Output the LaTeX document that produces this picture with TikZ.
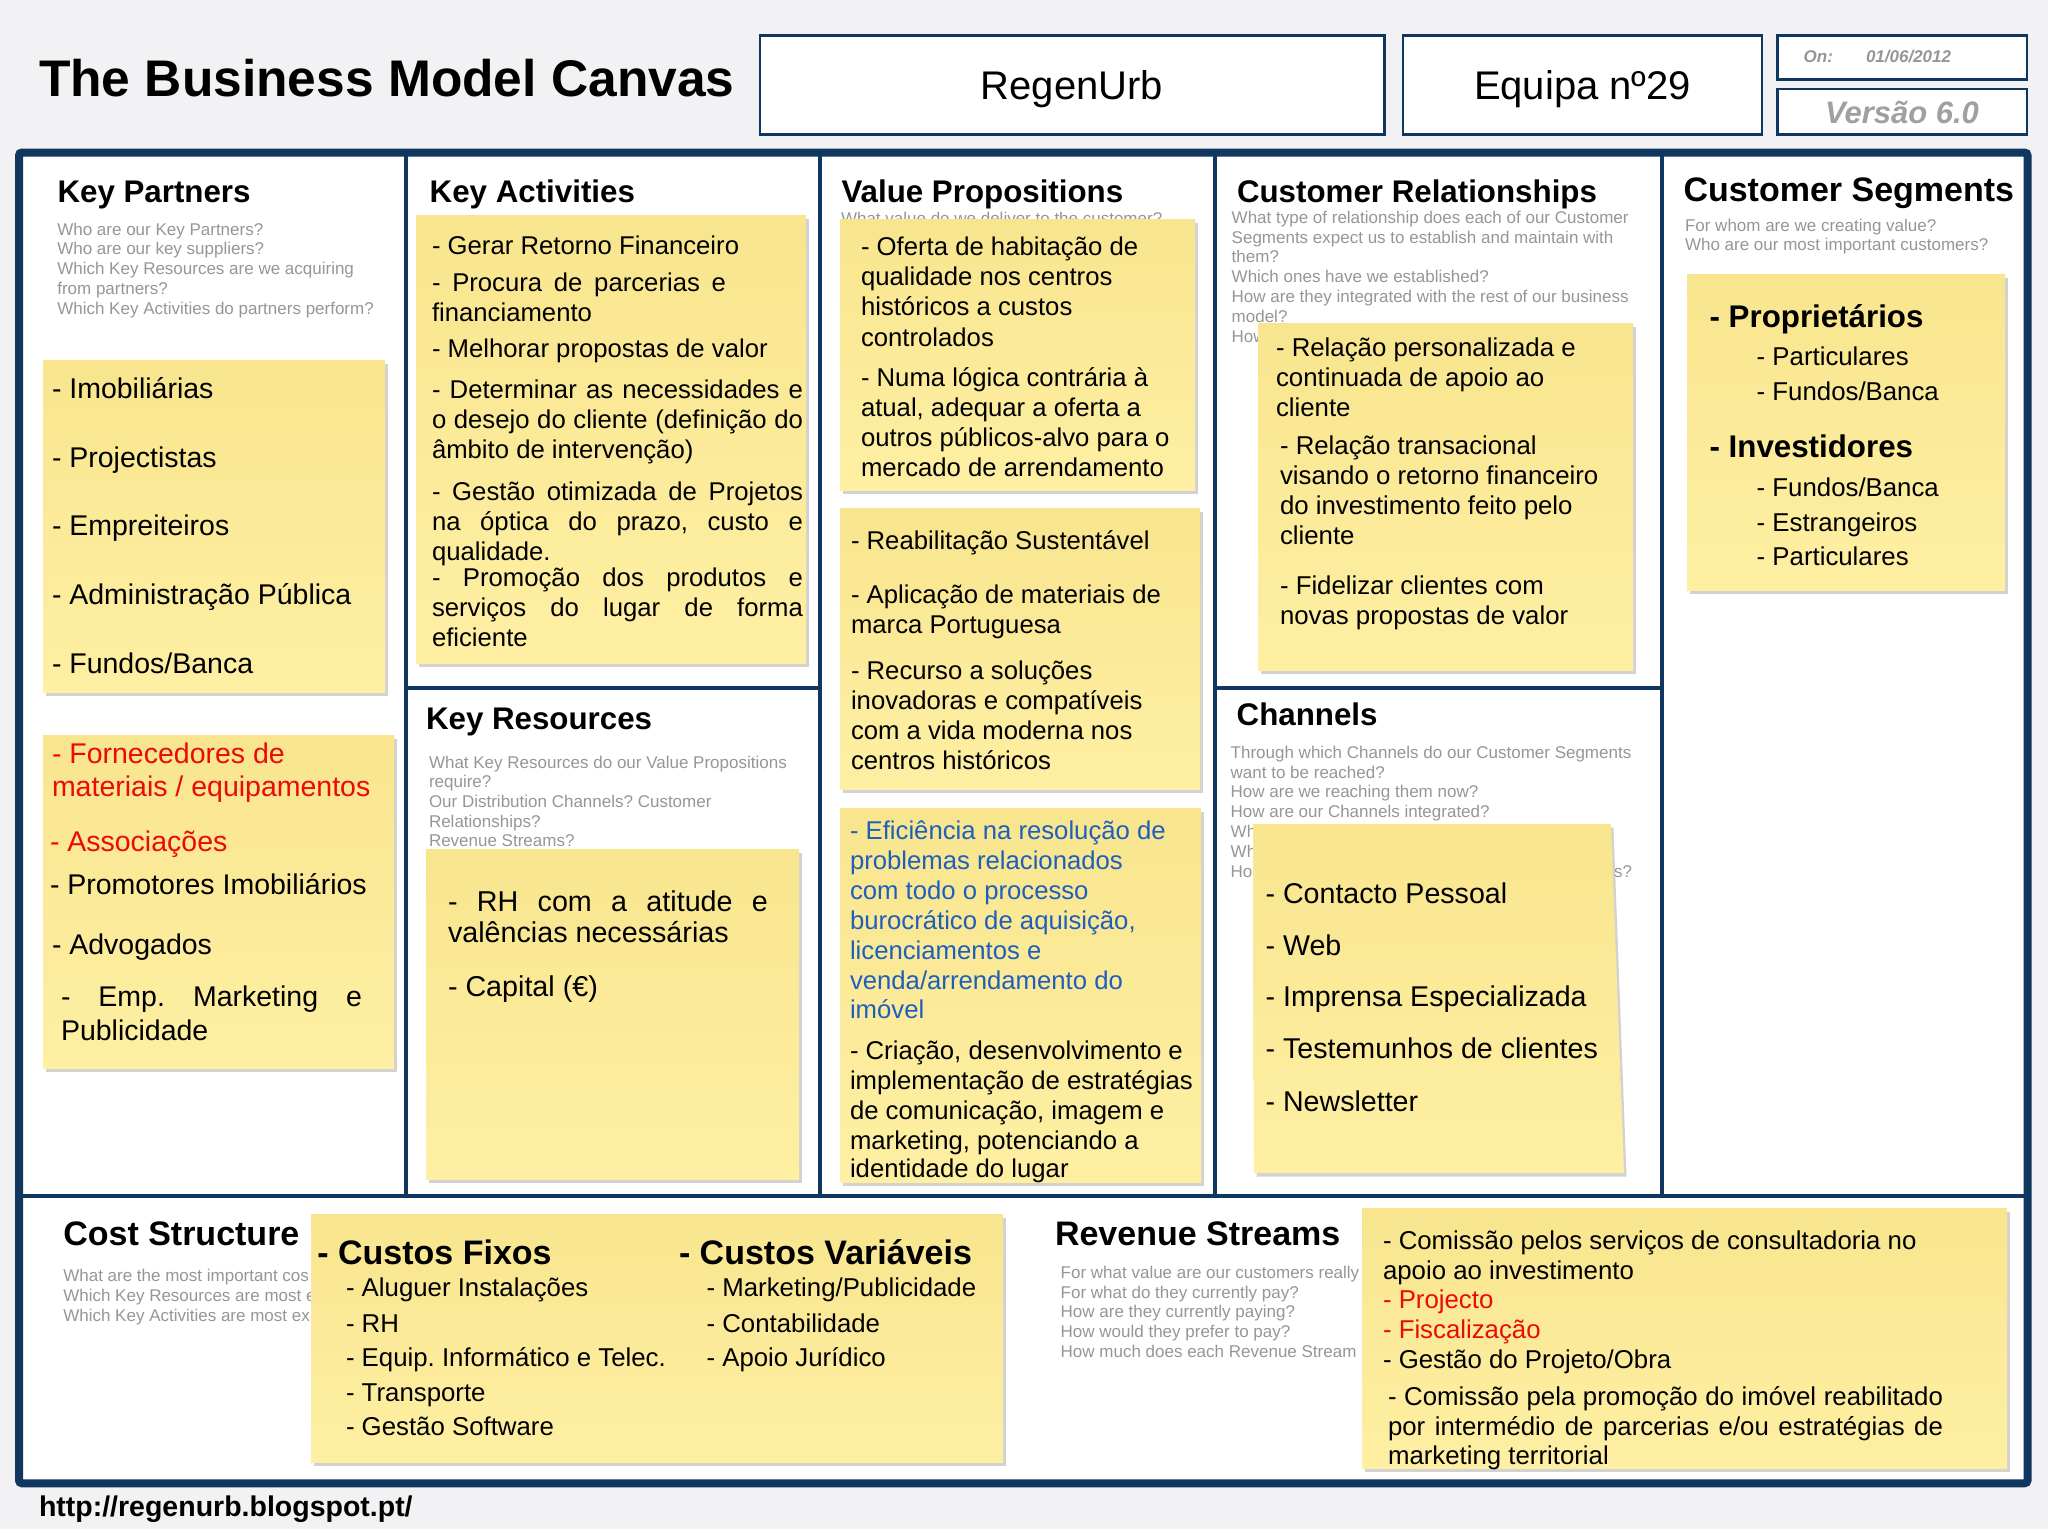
\documentclass[tikz,border=0pt]{standalone}
\usepackage{fontspec}
\setmainfont{Liberation Sans}
\usetikzlibrary{shadows}
\definecolor{navy}{RGB}{15,55,95}
\definecolor{qgrey}{RGB}{150,150,150}
\definecolor{fred}{RGB}{235,10,10}
\definecolor{fblue}{RGB}{30,95,190}
\definecolor{bgc}{RGB}{242,242,244}
\definecolor{ytop}{RGB}{248,229,142}
\definecolor{ybot}{RGB}{254,239,163}
\definecolor{vgrey}{RGB}{160,160,160}
\frenchspacing
\begin{document}
\begin{tikzpicture}[x=1pt,y=-1pt,
  frame/.style={draw=navy,line width=8pt},
  divider/.style={draw=navy,line width=4pt},
  hdrbox/.style={draw=navy,line width=2.5pt,fill=white},
  note/.style={top color=ytop,bottom color=ybot,drop shadow={shadow xshift=2.5pt,shadow yshift=-3.5pt,opacity=0.35}},
  lbl/.style={anchor=base west,inner sep=0pt,outer sep=0pt},
  title/.style={lbl,font=\bfseries\fontsize{31.3}{36}\selectfont},
  bigtitle/.style={lbl,font=\bfseries\fontsize{34}{40}\selectfont},
  quest/.style={lbl,text=qgrey,font=\fontsize{17}{20}\selectfont},
  nt/.style={lbl,font=\fontsize{#1}{#1}\selectfont},
  ntb/.style={lbl,font=\bfseries\fontsize{#1}{#1}\selectfont}]
\fill[bgc] (0,0) rectangle (2048,1529);
\useasboundingbox (0,0) rectangle (2048,1529);
% header
\node[lbl,font=\bfseries\fontsize{51.5}{60}\selectfont] (bmc) at (39,96) {The Business Model Canvas};
\draw[hdrbox] (760,35.3) rectangle (1384.5,134.5);
\node[anchor=base,inner sep=0pt,font=\fontsize{40}{48}\selectfont] (proj) at (1072,99) {RegenUrb};
\draw[hdrbox] (1402.8,35.3) rectangle (1762,134.5);
\node[anchor=base,inner sep=0pt,font=\fontsize{40}{48}\selectfont] (team) at (1582.5,99) {Equipa nº29};
\draw[hdrbox] (1777.6,35.3) rectangle (2027,79.7);
\node[lbl,text=qgrey,font=\bfseries\itshape\fontsize{17}{20}\selectfont] (on) at (1803.7,62) {On:};
\node[lbl,text=qgrey,font=\bfseries\itshape\fontsize{17}{20}\selectfont] (date) at (1866,62) {01/06/2012};
\draw[hdrbox] (1777.6,88.8) rectangle (2027,134.5);
\node[anchor=base,inner sep=0pt,text=vgrey,font=\bfseries\itshape\fontsize{31}{36}\selectfont] (ver) at (1902,123) {Versão 6.0};
% canvas
\fill[white] (19,152.5) rectangle (2027.5,1483.3);
\draw[divider] (406,152.5) -- (406,1196);
\draw[divider] (820,152.5) -- (820,1196);
\draw[divider] (1215.3,152.5) -- (1215.3,1196);
\draw[divider] (1662,152.5) -- (1662,1196);
\draw[divider] (406,688) -- (820,688);
\draw[divider] (1215.3,688) -- (1662,688);
\draw[divider] (19,1196) -- (2027.5,1196);
\draw[frame,rounded corners=3pt] (19,152.5) rectangle (2027.5,1483.3);
% titles
\node[title] (kpt) at (57.5,202) {Key Partners};
\node[title] (kat) at (429.7,202) {Key Activities};
\node[title] (vpt) at (841.5,202) {Value Propositions};
\node[title] (crt) at (1237,202) {Customer Relationships};
\node[bigtitle] (cst) at (1683.5,201) {Customer Segments};
\node[title] (krt) at (426,729) {Key Resources};
\node[title] (cht) at (1236.7,725) {Channels};
\node[bigtitle] (cost) at (63.3,1245) {Cost Structure};
\node[bigtitle] (revt) at (1055,1245) {Revenue Streams};
% questions
\foreach \t [count=\i from 0] in {Who are our Key Partners?, Who are our key suppliers?, Which Key Resources are we acquiring, from partners?, Which Key Activities do partners perform?}
  \node[quest] (kpq\i) at (57.3,235+19.8*\i) {\t};
\node[quest] (vpq) at (841,224) {What value do we deliver to the customer?};
\foreach \t [count=\i from 0] in {What type of relationship does each of our Customer, Segments expect us to establish and maintain with, them?, Which ones have we established?, How are they integrated with the rest of our business, model?, How}
  \node[quest] (crq\i) at (1231.7,223.3+19.8*\i) {\t};
\foreach \t [count=\i from 0] in {For whom are we creating value?, Who are our most important customers?}
  \node[quest] (csq\i) at (1685,231.7+19*\i) {\t};
\foreach \t [count=\i from 0] in {What Key Resources do our Value Propositions, require?, Our Distribution Channels? Customer, Relationships?, Revenue Streams?}
  \node[quest] (krq\i) at (429,768.3+19.6*\i) {\t};
\foreach \t [count=\i from 0] in {Through which Channels do our Customer Segments, want to be reached?, How are we reaching them now?, How are our Channels integrated?, Wh, Wh, Ho}
  \node[quest] (chq\i) at (1230.7,758.3+19.8*\i) {\t};
\node[quest,anchor=base east] (chq7) at (1632,877.1) {s?};
\foreach \t [count=\i from 0] in {What are the most important cos, Which Key Resources are most e, Which Key Activities are most ex}
  \node[quest] (coq\i) at (63.3,1281.7+19.7*\i) {\t};
\foreach \t [count=\i from 0] in {For what value are our customers really, For what do they currently pay?, How are they currently paying?, How would they prefer to pay?, How much does each Revenue Stream}
  \node[quest] (rsq\i) at (1060.7,1278.3+19.8*\i) {\t};
% sticky notes
\path[note] (43,360) rectangle (385,692);
\path[note] (43,735) rectangle (394,1068);
\path[note] (416,215) rectangle (806,663);
\path[note] (426,849) rectangle (799,1179);
\path[note] (840,219) rectangle (1195,490);
\path[note] (840,508) rectangle (1200,789);
\path[note] (840,808) rectangle (1201,1182);
\path[note] (1258,323) rectangle (1633,670);
\path[note] (1253,824) -- (1611,824) -- (1624,1173) -- (1254,1173) -- cycle;
\path[note] (1687,274) rectangle (2005,590);
\path[note] (311,1214) rectangle (1003,1462);
\path[note] (1362,1208) rectangle (2007,1468);
% key partners notes
\foreach \y/\t [count=\i] in {398/{- Imobiliárias}, 467/{- Projectistas}, 535/{- Empreiteiros}, 604/{- Administração Pública}, 673.5/{- Fundos/Banca}}
  \node[nt=28.5] (kpa\i) at (52,\y) {\t};
\node[nt=28.5,text=fred] (kpb1) at (52,763.6) {- Fornecedores de};
\node[nt=28.5,text=fred] (kpb2) at (52,796.2) {materiais / equipamentos};
\node[nt=28.5,text=fred] (kpb3) at (50,851.1) {- Associações};
\node[nt=28.5] (kpb4) at (50,894.2) {- Promotores Imobiliários};
\node[nt=28.5] (kpb5) at (52,954.3) {- Advogados};
\node[nt=28.5] (kpb6) at (61,1006.5) {\makebox[301pt][s]{- Emp. Marketing e}};
\node[nt=28.5] (kpb7) at (61,1040.5) {Publicidade};
% key activities
\foreach \y/\t [count=\i] in {254.5/{- Gerar Retorno Financeiro}, 291.1/{\makebox[294pt][s]{- Procura de parcerias e}}, 321.2/{financiamento}, 357.7/{- Melhorar propostas de valor}, 398.2/{\makebox[371pt][s]{- Determinar as necessidades e}}, 428.2/{\makebox[371pt][s]{o desejo do cliente (definição do}}, 458.3/{âmbito de intervenção)}, 500.1/{\makebox[371pt][s]{- Gestão otimizada de Projetos}}, 530.1/{\makebox[371pt][s]{na óptica do prazo, custo e}}, 560.2/{qualidade.}, 586.3/{\makebox[371pt][s]{- Promoção dos produtos e}}, 616.3/{\makebox[371pt][s]{serviços do lugar de forma}}, 646.4/{eficiente}}
  \node[nt=25.7] (ka\i) at (432,\y) {\t};
% key resources
\node[nt=28.7] (kr1) at (448,911) {\makebox[320pt][s]{- RH com a atitude e}};
\node[nt=28.7] (kr2) at (448,942.5) {valências necessárias};
\node[nt=28.7] (kr3) at (448,996) {- Capital (€)};
% value propositions
\foreach \y/\t [count=\i] in {255.8/{- Oferta de habitação de}, 285.9/{qualidade nos centros}, 315.9/{históricos a custos}, 346/{controlados}, 386.5/{- Numa lógica contrária à}, 416.5/{atual, adequar a oferta a}, 446.5/{outros públicos-alvo para o}, 476.6/{mercado de arrendamento}}
  \node[nt=25.7] (vpa\i) at (861,\y) {\t};
\foreach \y/\t [count=\i] in {549.7/{- Reabilitação Sustentável}, 603.3/{- Aplicação de materiais de}, 633.3/{marca Portuguesa}, 679/{- Recurso a soluções}, 709/{inovadoras e compatíveis}, 739.1/{com a vida moderna nos}, 769.1/{centros históricos}}
  \node[nt=25.7] (vpb\i) at (851,\y) {\t};
\foreach \y/\t [count=\i] in {839.7/{- Eficiência na resolução de}, 869.7/{problemas relacionados}, 899.8/{com todo o processo}, 929.8/{burocrático de aquisição,}, 959.8/{licenciamentos e}, 989.9/{venda/arrendamento do}, 1018.6/{imóvel}}
  \node[nt=25.7,text=fblue] (vpc\i) at (850,\y) {\t};
\foreach \y/\t [count=\i] in {1059/{- Criação, desenvolvimento e}, 1089.1/{implementação de estratégias}, 1119.1/{de comunicação, imagem e}, 1149.2/{marketing, potenciando a}, 1177.9/{identidade do lugar}}
  \node[nt=25.7] (vpd\i) at (850,\y) {\t};
% customer relationships
\foreach \y/\t [count=\i] in {356.4/{- Relação personalizada e}, 386.5/{continuada de apoio ao}, 416.5/{cliente}}
  \node[nt=25.8] (cra\i) at (1276,\y) {\t};
\foreach \y/\t [count=\i] in {454.4/{- Relação transacional}, 484.4/{visando o retorno financeiro}, 514.5/{do investimento feito pelo}, 544.5/{cliente}, 594.1/{- Fidelizar clientes com}, 624.2/{novas propostas de valor}}
  \node[nt=25.8] (crb\i) at (1280,\y) {\t};
% channels
\foreach \y/\t [count=\i] in {903.4/{- Contacto Pessoal}, 955.6/{- Web}, 1006.5/{- Imprensa Especializada}, 1058.8/{- Testemunhos de clientes}, 1111/{- Newsletter}}
  \node[nt=28.6] (ch\i) at (1265.6,\y) {\t};
% customer segments
\node[ntb=31.3] (cs1) at (1709.6,327) {- Proprietários};
\node[nt=25.8] (cs2) at (1756.7,365.6) {- Particulares};
\node[nt=25.8] (cs3) at (1756.7,400.8) {- Fundos/Banca};
\node[ntb=31.3] (cs4) at (1709.6,457.7) {- Investidores};
\node[nt=25.8] (cs5) at (1756.7,496.2) {- Fundos/Banca};
\node[nt=25.8] (cs6) at (1756.7,531.4) {- Estrangeiros};
\node[nt=25.8] (cs7) at (1756.7,565.4) {- Particulares};
% cost structure
\node[ntb=34] (cfix) at (317.4,1264.6) {- Custos Fixos};
\node[ntb=34] (cvar) at (679,1264.6) {- Custos Variáveis};
\foreach \y/\t [count=\i] in {1296.8/{- Aluguer Instalações}, 1332/{- RH}, 1366/{- Equip. Informático e Telec.}, 1401.3/{- Transporte}, 1435.2/{- Gestão Software}}
  \node[nt=25.8] (cf\i) at (346,\y) {\t};
\foreach \y/\t [count=\i] in {1296.8/{- Marketing/Publicidade}, 1332/{- Contabilidade}, 1366/{- Apoio Jurídico}}
  \node[nt=25.8] (cv\i) at (706.6,\y) {\t};
% revenue streams
\node[nt=25.8] (rs1) at (1383,1249.8) {- Comissão pelos serviços de consultadoria no};
\node[nt=25.8] (rs2) at (1383,1279.8) {apoio ao investimento};
\node[nt=25.8,text=fred] (rs3) at (1383,1308.5) {- Projecto};
\node[nt=25.8,text=fred] (rs4) at (1383,1338.6) {- Fiscalização};
\node[nt=25.8] (rs5) at (1383,1368.6) {- Gestão do Projeto/Obra};
\node[nt=25.8] (rs6) at (1388,1405.2) {\makebox[555pt][s]{- Comissão pela promoção do imóvel reabilitado}};
\node[nt=25.8] (rs7) at (1388,1435.2) {\makebox[555pt][s]{por intermédio de parcerias e/ou estratégias de}};
\node[nt=25.8] (rs8) at (1388,1464) {marketing territorial};
% footer
\node[lbl,font=\bfseries\fontsize{28.5}{34}\selectfont] (url) at (39,1516) {http://regenurb.blogspot.pt/};
\end{tikzpicture}
\end{document}
